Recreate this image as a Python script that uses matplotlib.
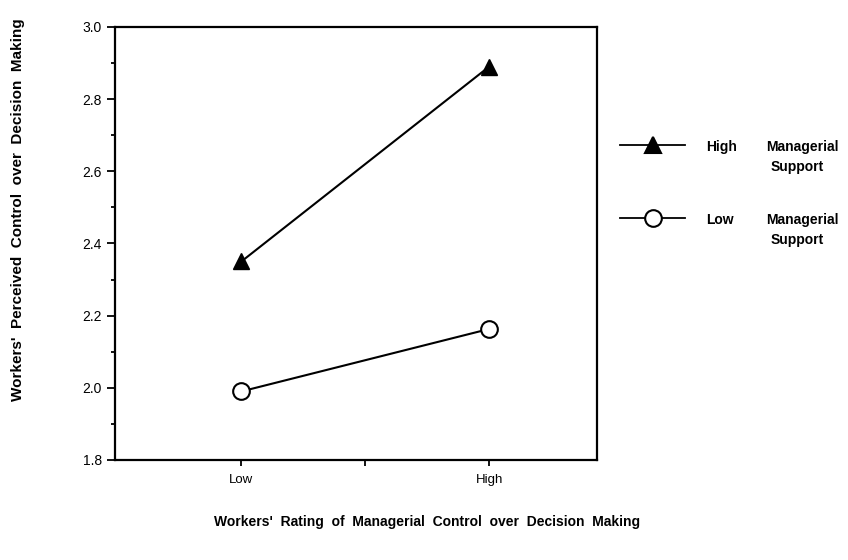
#!/usr/bin/env python3

import matplotlib
matplotlib.use('Agg')
import matplotlib.pyplot as plt
from matplotlib.lines import Line2D
from matplotlib.ticker import MultipleLocator

plt.rcParams['font.family'] = ['Liberation Sans', 'DejaVu Sans']

# data
x_labels = ['Low', 'High']
high_support = [2.35, 2.89]
low_support = [1.99, 2.163]

x = [1, 2]

fig = plt.figure(figsize=(8.48, 5.6), dpi=100)
ax = fig.add_axes([0.1356, 0.1786, 0.5684, 0.7734])

ax.plot(x, high_support, color='black', lw=1.5, marker='^', markersize=12,
        markerfacecolor='black', markeredgecolor='black', clip_on=False, zorder=3)
ax.plot(x, low_support, color='black', lw=1.5, marker='o', markersize=12,
        markerfacecolor='white', markeredgecolor='black', markeredgewidth=1.5,
        clip_on=False, zorder=3)

ax.set_xlim(0.49, 2.435)
ax.set_ylim(1.8, 3.0)
ax.set_xticks([1, 1.5, 2])
ax.set_xticklabels([x_labels[0], '', x_labels[1]], fontsize=9.5)
ax.yaxis.set_major_locator(MultipleLocator(0.2))
ax.yaxis.set_minor_locator(MultipleLocator(0.1))
ax.set_yticklabels([f'{v:.1f}' for v in ax.get_yticks()], fontsize=10)
ax.tick_params(axis='y', which='major', length=6, width=1.3, direction='out')
ax.tick_params(axis='y', which='minor', length=3, width=1.3, direction='out')
ax.tick_params(axis='x', which='major', length=4, width=1.3, direction='out', pad=6)
for s in ax.spines.values():
    s.set_linewidth(1.6)

# legend drawn by hand, outside the axes
for ymark, mk, fc, label1 in [(0.741, '^', 'black', 'High'),
                              (0.611, 'o', 'white', 'Low')]:
    fig.add_artist(Line2D([0.731, 0.808], [ymark, ymark], color='black', lw=1.3))
    fig.add_artist(Line2D([0.7695], [ymark], marker=mk, markersize=12,
                          markerfacecolor=fc, markeredgecolor='black',
                          markeredgewidth=1.5))
    fig.text(0.833, ymark - 0.004, label1, fontsize=10, fontweight='bold',
             va='center')
    fig.text(0.904, ymark - 0.004, 'Managerial', fontsize=10, fontweight='bold',
             va='center')
    fig.text(0.909, ymark - 0.040, 'Support', fontsize=10, fontweight='bold',
             va='center')

fig.text(0.021, 0.625, "Workers'  Perceived  Control  over  Decision  Making",
         rotation=90, fontsize=11, fontweight='bold', ha='center', va='center')
fig.text(0.504, 0.068, "Workers'  Rating  of  Managerial  Control  over  Decision  Making",
         fontsize=10, fontweight='bold', ha='center', va='center')

fig.savefig('out.png', dpi=100)
